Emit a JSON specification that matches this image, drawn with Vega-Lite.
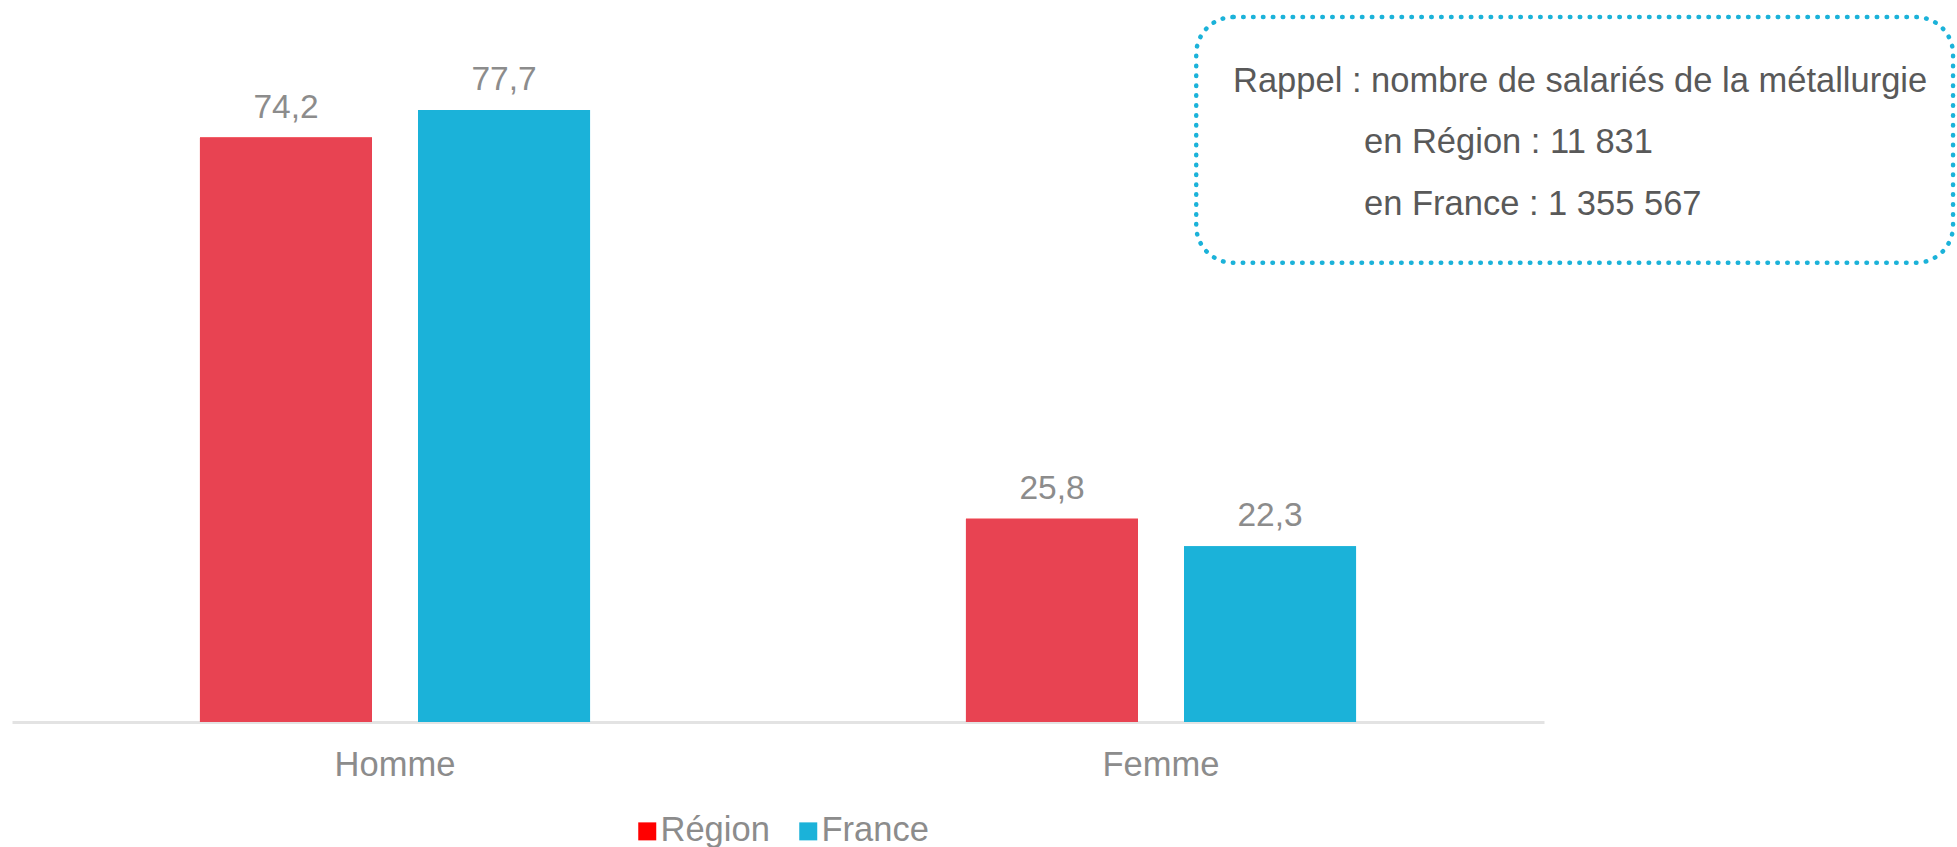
{
  "$schema": "https://vega.github.io/schema/vega-lite/v6.json",
  "width": 1532,
  "height": 722,
  "autosize": {"type": "none"},
  "padding": {"left": 12, "top": 0, "right": 413, "bottom": 125},
  "background": "white",
  "config": {
    "view": {"stroke": null},
    "font": "Liberation Sans"
  },
  "datasets": {
    "barres": [
      {"sexe": "Homme", "zone": "Région", "part": 74.2, "etiquette": "74,2"},
      {"sexe": "Homme", "zone": "France", "part": 77.7, "etiquette": "77,7"},
      {"sexe": "Femme", "zone": "Région", "part": 25.8, "etiquette": "25,8"},
      {"sexe": "Femme", "zone": "France", "part": 22.3, "etiquette": "22,3"}
    ],
    "annotation": [
      {"ligne": "titre", "texte": "Rappel : nombre de salariés de la métallurgie"},
      {"ligne": "region", "texte": "en Région : 11 831"},
      {"ligne": "france", "texte": "en France : 1 355 567"}
    ]
  },
  "layer": [
    {
      "data": {"name": "barres"},
      "encoding": {
        "x": {
          "field": "sexe", "type": "nominal", "sort": ["Homme", "Femme"],
          "scale": {"paddingInner": 0, "paddingOuter": 0},
          "axis": {
            "title": null, "ticks": false, "tickSize": 0, "labelAngle": 0,
            "labelFontSize": 34.5, "labelColor": "#8C8C8C", "labelPadding": 53,
            "labelBaseline": "alphabetic",
            "domainColor": "#E3E3E3", "domainWidth": 3, "grid": false
          }
        },
        "xOffset": {
          "field": "zone", "type": "nominal", "sort": ["Région", "France"],
          "scale": {"paddingInner": 0.211, "paddingOuter": 0.862}
        },
        "y": {
          "field": "part", "type": "quantitative",
          "scale": {"domain": [0, 91.67], "nice": false, "zero": true},
          "axis": null
        }
      },
      "layer": [
        {
          "mark": {"type": "bar"},
          "encoding": {
            "color": {
              "field": "zone", "type": "nominal", "sort": ["Région", "France"],
              "scale": {"domain": ["Région", "France"], "range": ["#FF0000", "#1BB2D9"]},
              "legend": {
                "title": null, "orient": "none", "direction": "horizontal",
                "legendX": 618, "legendY": 814,
                "symbolType": "square", "symbolSize": 324, "symbolStrokeWidth": 0,
                "labelFontSize": 34.5, "labelColor": "#8C8C8C", "labelOffset": -4,
                "columnPadding": 21, "symbolOpacity": 1
              }
            }
          }
        },
        {
          "mark": {"type": "bar"},
          "encoding": {
            "fill": {
              "field": "zone", "type": "nominal", "sort": ["Région", "France"],
              "scale": {"domain": ["Région", "France"], "range": ["#E84352", "#1BB2D9"]},
              "legend": null
            }
          }
        },
        {
          "mark": {"type": "text", "dy": -20, "baseline": "alphabetic", "fontSize": 33.5, "color": "#8C8C8C"},
          "encoding": {"text": {"field": "etiquette"}}
        }
      ]
    },
    {
      "data": {"name": "annotation"},
      "layer": [
        {
          "transform": [{"filter": "datum.ligne === 'titre'"}],
          "mark": {"type": "rect", "filled": false, "fill": null, "stroke": "#1BB2D9", "strokeWidth": 4.5, "strokeDash": [0.5, 9.4], "strokeCap": "round", "cornerRadius": 37, "clip": false},
          "encoding": {
            "x": {"datum": 77.3, "type": "quantitative", "scale": {"domain": [0, 100], "nice": false, "zero": false}, "axis": null},
            "x2": {"datum": 126.7},
            "y": {"datum": 89.5, "type": "quantitative"},
            "y2": {"datum": 58.3}
          }
        },
        {
          "transform": [{"filter": "datum.ligne === 'titre'"}],
          "mark": {"type": "text", "align": "left", "baseline": "alphabetic", "fontSize": 34.5, "color": "#595959"},
          "encoding": {
            "x": {"datum": 79.7, "type": "quantitative", "scale": {"domain": [0, 100], "nice": false, "zero": false}, "axis": null},
            "y": {"datum": 80.0, "type": "quantitative"},
            "text": {"field": "texte"}
          }
        },
        {
          "transform": [{"filter": "datum.ligne === 'region'"}],
          "mark": {"type": "text", "align": "left", "baseline": "alphabetic", "fontSize": 34.5, "color": "#595959"},
          "encoding": {
            "x": {"datum": 88.25, "type": "quantitative", "scale": {"domain": [0, 100], "nice": false, "zero": false}, "axis": null},
            "y": {"datum": 72.25, "type": "quantitative"},
            "text": {"field": "texte"}
          }
        },
        {
          "transform": [{"filter": "datum.ligne === 'france'"}],
          "mark": {"type": "text", "align": "left", "baseline": "alphabetic", "fontSize": 34.5, "color": "#595959"},
          "encoding": {
            "x": {"datum": 88.25, "type": "quantitative", "scale": {"domain": [0, 100], "nice": false, "zero": false}, "axis": null},
            "y": {"datum": 64.35, "type": "quantitative"},
            "text": {"field": "texte"}
          }
        }
      ]
    }
  ],
  "resolve": {"scale": {"x": "independent"}, "axis": {"x": "independent"}}
}
